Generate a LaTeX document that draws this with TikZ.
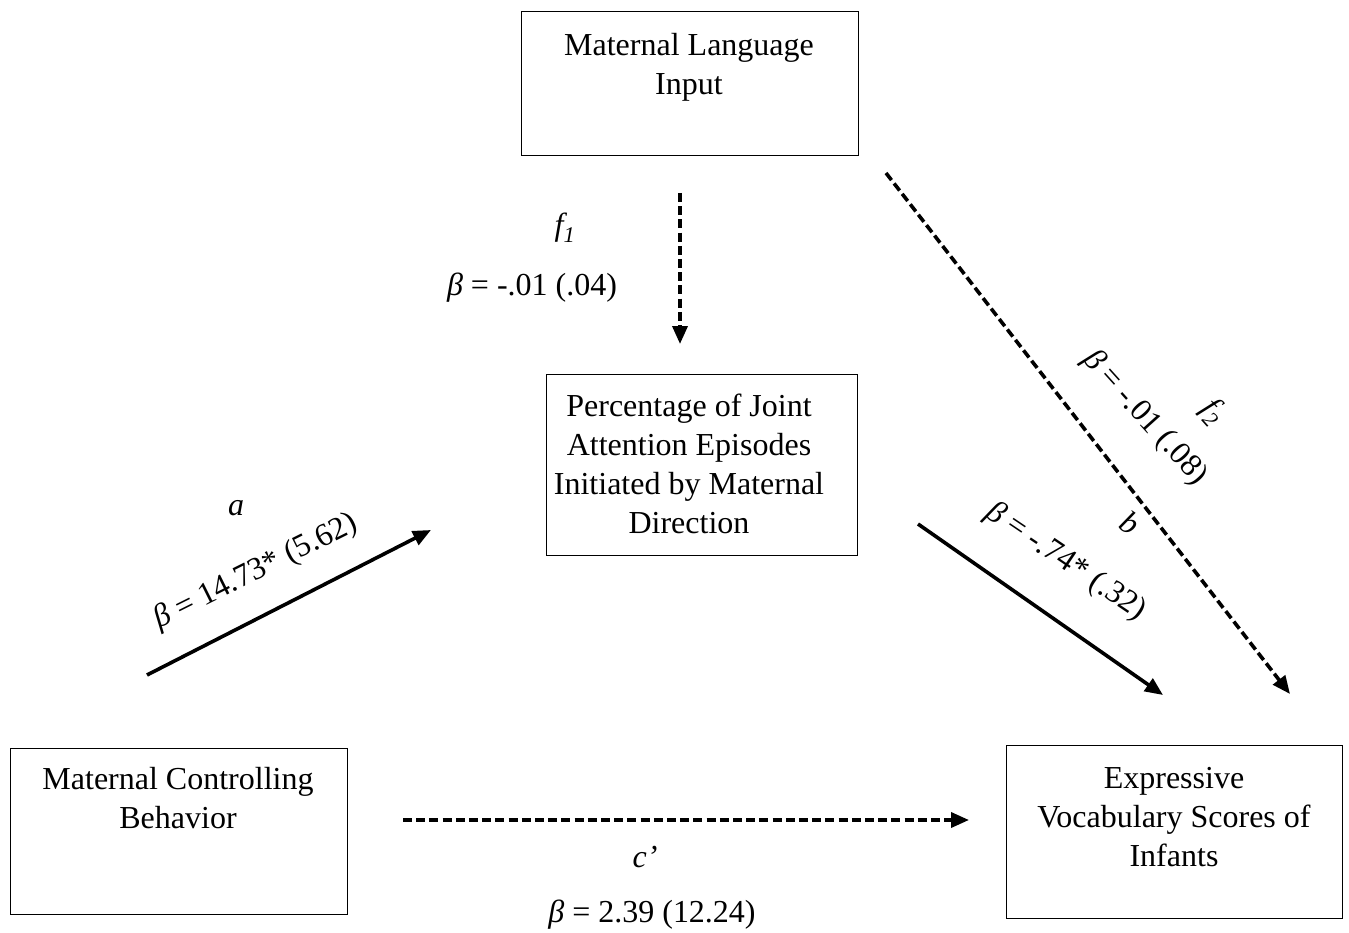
\documentclass[tikz,border=0pt]{standalone}
\usepackage{fontspec}
\setmainfont{Liberation Serif}
\usetikzlibrary{arrows.meta}
\begin{document}
\begin{tikzpicture}[x=1pt,y=-1pt,
  box/.style={draw, line width=1.4pt, inner sep=0pt, anchor=north west},
  boxtext/.style={font=\fontsize{32}{39}\selectfont, align=center, inner sep=0pt, anchor=north},
  lab/.style={font=\fontsize{32}{39}\selectfont, inner sep=0pt},
  solidarrow/.style={line width=3.6pt, -{Triangle[length=18pt,width=15pt]}},
  dasharrow/.style={solidarrow, dash pattern=on 9pt off 4.2pt}]
\useasboundingbox (0,0) rectangle (1349,933);
% boxes
\node[box, minimum width=337pt, minimum height=144pt] (mli) at (521,11) {};
\node[boxtext] (mlit) at (689,33) {Maternal Language\\Input};
\node[box, minimum width=311pt, minimum height=181pt] (ja) at (546,374) {};
\node[boxtext] (jat) at (689,394) {Percentage of Joint\\Attention Episodes\\Initiated by Maternal\\Direction};
\node[box, minimum width=337pt, minimum height=166pt] (mcb) at (10,748) {};
\node[boxtext] (mcbt) at (178,767) {Maternal Controlling\\Behavior};
\node[box, minimum width=336pt, minimum height=173pt] (evs) at (1006,745) {};
\node[boxtext] (evst) at (1174,767) {Expressive\\Vocabulary Scores of\\Infants};
% arrow end points
\coordinate (f1s) at (680,193); \coordinate (f1e) at (680,344);
\coordinate (f2s) at (886,173); \coordinate (f2e) at (1290,694);
\coordinate (as) at (147,675);  \coordinate (ae) at (431,530);
\coordinate (bs) at (918,524);  \coordinate (be) at (1163,695);
\coordinate (cs) at (403,820);  \coordinate (ce) at (969,820);
\draw[dasharrow] (f1s) -- (f1e);
\draw[dasharrow] (f2s) -- (f2e);
\draw[solidarrow] (as) -- (ae);
\draw[solidarrow] (bs) -- (be);
\draw[dasharrow] (cs) -- (ce);
% labels
\node[lab] (f1l) at (565,228) {\textit{f\textsubscript{1}}};
\node[lab] (f1b) at (532,288) {\textit{β} = -.01 (.04)};
\node[lab] (al) at (236,508) {\textit{a}};
\node[lab, rotate=26.5] (ab) at (256,572) {\textit{β} = 14.73* (5.62)};
\node[lab, rotate=-48] (f2l) at (1213,412) {\textit{f\textsubscript{2}}};
\node[lab, rotate=-48] (f2b) at (1145,418) {\textit{β} = -.01 (.08)};
\node[lab, rotate=-34] (bl) at (1130,523) {\textit{b}};
\node[lab, rotate=-34] (bb) at (1066,562) {\textit{β} = -.74* (.32)};
\node[lab] (cl) at (645,857) {\textit{c’}};
\node[lab] (cb) at (652,915) {\textit{β} = 2.39 (12.24)};
\end{tikzpicture}
\end{document}
